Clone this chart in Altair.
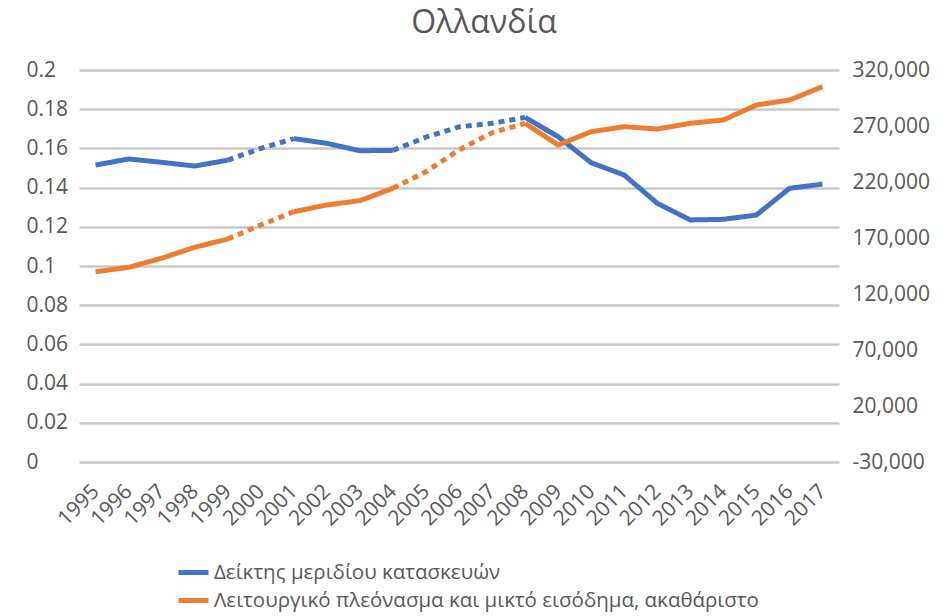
import altair as alt
import pandas as pd

years = [str(y) for y in range(1995, 2018)]
share_index = [0.1515, 0.1546, 0.1529, 0.1510, 0.1540, 0.1600, 0.1650, 0.1626, 0.1588,
               0.1590, 0.1657, 0.1710, 0.1728, 0.1758, 0.1660, 0.1527, 0.1464, 0.1320,
               0.1235, 0.1238, 0.1260, 0.1396, 0.1418]
surplus = [139900, 143800, 151900, 161700, 169100, 181600, 193500, 199500, 203300,
           214400, 229200, 248600, 264000, 272400, 253000, 264900, 269400, 267300,
           272400, 275400, 288750, 293200, 305100]
series_names = ["Δείκτης μεριδίου κατασκευών",
                "Λειτουργικό πλεόνασμα και μικτό εισόδημα, ακαθάριστο"]
colors = ["#4472C4", "#ED7D31"]
# segments: (start year, end year, style)
segments = [("1995", "1999", "solid"), ("1999", "2001", "dotted"), ("2001", "2004", "solid"),
            ("2004", "2008", "dotted"), ("2008", "2017", "solid")]
left_ticks = [0, 0.02, 0.04, 0.06, 0.08, 0.1, 0.12, 0.14, 0.16, 0.18, 0.2]
right_ticks = [-30000, 20000, 70000, 120000, 170000, 220000, 270000, 320000]


def build(values, name):
    rows = []
    for i, (a, b, style) in enumerate(segments):
        ia, ib = years.index(a), years.index(b)
        for k in range(ia, ib + 1):
            rows.append({"year": years[k], "value": values[k], "series": name,
                         "seg": f"{name}-{i}", "style": style})
    return pd.DataFrame(rows)


df_blue = build(share_index, series_names[0])
df_orange = build(surplus, series_names[1])

FONT = "Open Sans"
GREY = "#595959"

xenc = alt.X("year:O", scale=alt.Scale(domain=years, padding=0.5),
             axis=alt.Axis(title=None, labelAngle=-45, labelAlign="right", labelBaseline="middle",
                           labelPadding=26, ticks=False, domain=False, grid=False,
                           labelFontSize=21, labelColor=GREY, labelFont=FONT))

color = alt.Color("series:N", scale=alt.Scale(domain=series_names, range=colors),
                  legend=alt.Legend(title=None, orient="none", legendX=97, legendY=485,
                                    direction="vertical", symbolType="stroke", symbolSize=900,
                                    symbolStrokeWidth=5, labelFontSize=20.5, labelFont=FONT,
                                    labelColor=GREY, rowPadding=0, labelLimit=800,
                                    labelOffset=3))
dash = alt.StrokeDash("style:N", scale=alt.Scale(domain=["solid", "dotted"],
                                                 range=[[1, 0], [6, 5]]), legend=None)

blue = alt.Chart(df_blue).mark_line(strokeWidth=5, strokeCap="butt").encode(
    x=xenc,
    y=alt.Y("value:Q", scale=alt.Scale(domain=[0, 0.2], nice=False, zero=False),
            axis=alt.Axis(title=None, values=left_ticks,
                          labelExpr="format(datum.value, '~g')", labelAlign="left",
                          labelPadding=53, ticks=False, tickSize=0, domain=False,
                          grid=True, gridColor="#c8c8c8", gridWidth=2.5,
                          labelFontSize=21, labelColor=GREY, labelFont=FONT)),
    color=color, strokeDash=dash, detail="seg:N")

orange = alt.Chart(df_orange).mark_line(strokeWidth=5, strokeCap="butt").encode(
    x=xenc,
    y=alt.Y("value:Q", scale=alt.Scale(domain=[-30000, 320000], nice=False, zero=False),
            axis=alt.Axis(title=None, orient="right", values=right_ticks,
                          labelExpr="replace(format(datum.value, ','), '\u2212', '-')",
                          labelPadding=13, ticks=False, tickSize=0, domain=False, grid=False,
                          labelFontSize=21, labelColor=GREY, labelFont=FONT)),
    color=color, strokeDash=dash, detail="seg:N")

chart = alt.layer(blue, orange).resolve_scale(y="independent").properties(
    width=760, height=392,
    autosize=alt.AutoSizeParams(type="none"),
    padding={"left": 71, "top": 62, "right": 100, "bottom": 154},
    title=alt.Title("Ολλανδία", fontSize=32, font=FONT, fontWeight="normal", color=GREY,
                    anchor="middle", offset=19, dx=25),
).configure_view(stroke=None)

chart.save("out.html", embed_options={"renderer": "svg", "actions": False})
